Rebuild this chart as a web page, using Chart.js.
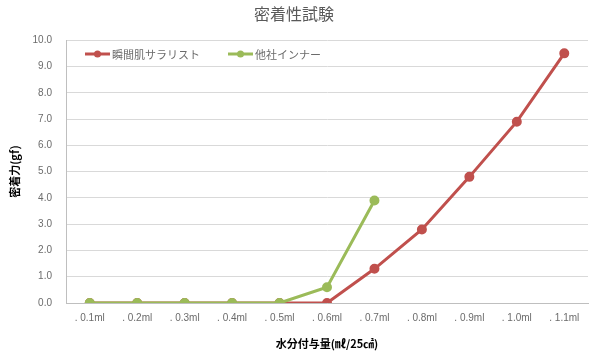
<!DOCTYPE html>
<html>
<head>
<meta charset="utf-8">
<script src="https://cdn.jsdelivr.net/npm/chart.js@4"></script>
<style>
  body { margin: 0; background: #fff; }
</style>
</head>
<body>
<canvas id="myChart" width="601" height="362"></canvas>
<script>
var labels = [". 0.1ml", ". 0.2ml", ". 0.3ml", ". 0.4ml", ". 0.5ml", ". 0.6ml", ". 0.7ml", ". 0.8ml", ". 0.9ml", ". 1.0ml", ". 1.1ml"]
var seriesNames = ["瞬間肌サラリスト", "他社インナー"]
var redValues = [0, 0, 0, 0, 0, 0, 1.3, 2.8, 4.8, 6.9, 9.5]
var greenValues = [0, 0, 0, 0, 0, 0.6, 3.9, null, null, null, null]
var colors = ['#c0504d', '#9bbb59']

const jpFont = "'Noto Sans CJK JP', sans-serif"

// legend drawn inside the plot area, like the original
const insideLegend = {
    id: 'insideLegend',
    afterDraw(chart) {
        const ctx = chart.ctx
        const xs = [85, 228]
        const y = 54
        ctx.save()
        chart.data.datasets.forEach((ds, i) => {
            let x = xs[i]
            ctx.strokeStyle = ds.borderColor
            ctx.lineWidth = 3
            ctx.beginPath()
            ctx.moveTo(x, y)
            ctx.lineTo(x + 25, y)
            ctx.stroke()
            ctx.fillStyle = ds.borderColor
            ctx.beginPath()
            ctx.arc(x + 12.5, y, 3.5, 0, Math.PI * 2)
            ctx.fill()
            ctx.fillStyle = '#6b6b6b'
            ctx.font = "11px " + jpFont
            ctx.textBaseline = 'middle'
            ctx.textAlign = 'left'
            ctx.fillText(ds.label, x + 27, y + 1)
        })
        ctx.restore()
    }
}

let datasets = [redValues, greenValues].map((vals, i) => ({
    label: seriesNames[i],
    data: vals,
    borderColor: colors[i],
    backgroundColor: colors[i],
    borderWidth: 3,
    pointRadius: 3.5,
    pointHoverRadius: 3.5,
    tension: 0,
    spanGaps: false
}))
// green drawn on top
datasets[0].order = 2
datasets[1].order = 1

const chartConfig = {
    type: 'line',
    data: {
        labels: labels,
        datasets: datasets
    },
    options: {
        responsive: false,
        animation: false,
        layout: { padding: { right: 13, top: 0 } },
        plugins: {
            legend: { display: false },
            tooltip: { enabled: false },
            title: {
                display: true,
                text: "密着性試験",
                color: '#595959',
                font: { family: jpFont, size: 16, weight: 'normal' },
                padding: { top: 4, bottom: 17 }
            }
        },
        scales: {
            x: {
                offset: true,
                afterFit: s => { s.height = 59 },
                grid: { display: false, drawTicks: false },
                border: { color: '#bfbfbf', width: 1 },
                ticks: {
                    color: '#6b6b6b',
                    font: { family: "'Liberation Sans', sans-serif", size: 10 },
                    padding: 9,
                    maxRotation: 0,
                    autoSkip: false
                },
                title: {
                    display: true,
                    text: "水分付与量(㎖/25㎠)",
                    color: '#000',
                    font: { family: jpFont, size: 11, weight: 'bold' },
                    padding: { top: 6, bottom: 12 }
                }
            },
            y: {
                min: 0,
                max: 10,
                afterFit: s => { s.width = 66 },
                grid: { color: '#d9d9d9', drawTicks: false },
                border: { color: '#bfbfbf', width: 1 },
                ticks: {
                    stepSize: 1,
                    color: '#6b6b6b',
                    padding: 14,
                    font: { family: "'Liberation Sans', sans-serif", size: 10 },
                    callback: v => v.toFixed(1)
                },
                title: {
                    display: true,
                    text: "密着力(gf)",
                    color: '#000',
                    font: { family: jpFont, size: 11, weight: 'bold' },
                    padding: { top: 8, bottom: 2 }
                }
            }
        }
    },
    plugins: [insideLegend]
}

new Chart(document.getElementById('myChart'), chartConfig)
</script>
</body>
</html>
